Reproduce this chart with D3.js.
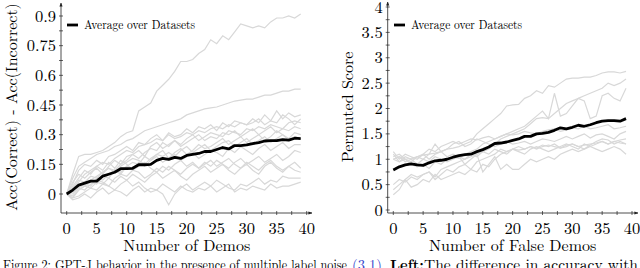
<!DOCTYPE html>
<html>
<head>
<meta charset="utf-8">
<script src="https://cdn.jsdelivr.net/npm/d3@7"></script>
<style>
  body { margin: 0; background: #fff; }
</style>
</head>
<body>
<script>
// x values : 0 .. 39 demos
const demos = d3.range(40);

// left panel : Acc(Correct) - Acc(Incorrect)
const leftAvg = [0,0.02,0.045,0.055,0.065,0.065,0.09,0.1,0.11,0.128,0.128,0.13,0.148,0.148,0.15,0.17,0.18,0.175,0.185,0.18,0.195,0.2,0.205,0.215,0.215,0.225,0.235,0.228,0.245,0.245,0.248,0.255,0.26,0.268,0.27,0.27,0.275,0.272,0.282,0.28];
const leftSets = [
  [0,0.1,0.19,0.2,0.2,0.21,0.22,0.24,0.26,0.29,0.31,0.32,0.42,0.44,0.46,0.52,0.55,0.58,0.62,0.67,0.67,0.68,0.71,0.73,0.78,0.76,0.8,0.78,0.82,0.86,0.85,0.84,0.85,0.84,0.87,0.89,0.89,0.9,0.89,0.91],
  [0,0.08,0.14,0.16,0.18,0.2,0.21,0.22,0.24,0.25,0.27,0.28,0.3,0.32,0.33,0.34,0.35,0.36,0.37,0.38,0.4,0.41,0.42,0.43,0.435,0.44,0.45,0.46,0.47,0.475,0.48,0.48,0.49,0.5,0.5,0.51,0.52,0.52,0.53,0.53],
  [0,0.05,0.12,0.15,0.14,0.17,0.15,0.19,0.2,0.22,0.24,0.22,0.26,0.25,0.28,0.3,0.27,0.31,0.29,0.3,0.33,0.31,0.34,0.33,0.35,0.32,0.36,0.34,0.37,0.36,0.35,0.38,0.36,0.4,0.37,0.42,0.38,0.41,0.39,0.4],
  [0,0.03,0.06,0.1,0.12,0.14,0.16,0.15,0.18,0.2,0.22,0.21,0.24,0.25,0.26,0.28,0.27,0.3,0.28,0.29,0.31,0.3,0.32,0.31,0.33,0.34,0.33,0.35,0.34,0.36,0.35,0.36,0.38,0.35,0.37,0.36,0.4,0.38,0.35,0.38],
  [0,0.02,0.05,0.04,0.07,0.09,0.11,0.13,0.12,0.15,0.17,0.2,0.18,0.21,0.23,0.22,0.26,0.24,0.27,0.25,0.28,0.3,0.27,0.29,0.31,0.3,0.29,0.32,0.31,0.3,0.33,0.32,0.34,0.33,0.35,0.34,0.33,0.36,0.37,0.36],
  [0,0.06,0.1,0.08,0.11,0.13,0.1,0.14,0.17,0.15,0.19,0.2,0.22,0.19,0.24,0.26,0.23,0.25,0.27,0.24,0.26,0.28,0.3,0.27,0.29,0.28,0.31,0.3,0.32,0.29,0.31,0.33,0.3,0.32,0.34,0.31,0.33,0.32,0.34,0.33],
  [0,0,0.03,0.05,0.04,0.08,0.07,0.1,0.12,0.11,0.14,0.16,0.15,0.19,0.17,0.2,0.22,0.18,0.21,0.23,0.2,0.22,0.25,0.23,0.24,0.26,0.28,0.25,0.27,0.29,0.26,0.28,0.3,0.27,0.29,0.32,0.3,0.28,0.31,0.3],
  [0,-0.02,0.02,0.04,0.06,0.05,0.09,0.08,0.12,0.1,0.14,0.12,0.16,0.14,0.17,0.19,0.16,0.18,0.2,0.17,0.19,0.21,0.18,0.2,0.22,0.21,0.19,0.23,0.21,0.24,0.22,0.2,0.23,0.25,0.22,0.24,0.26,0.23,0.25,0.25],
  [0,0.01,0.03,0.02,0.05,0.07,0.06,0.04,0.08,0.1,0.09,0.12,0.11,0.08,0.1,0.13,0.11,0.14,0.12,0.1,0.13,0.15,0.13,0.16,0.14,0.17,0.15,0.13,0.16,0.18,0.15,0.17,0.19,0.16,0.18,0.2,0.17,0.19,0.22,0.21],
  [0,-0.01,0.02,0.04,0.03,0.06,0.05,0.08,0.06,0.09,0.07,0.1,0.08,0.06,0.09,0.11,0.08,0.1,0.12,0.09,0.07,0.1,0.12,0.14,0.11,0.13,0.15,0.12,0.1,0.13,0.15,0.12,0.1,0.14,0.16,0.13,0.11,0.14,0.12,0.11],
  [0,-0.02,-0.01,0.01,0.03,0.02,0.05,0.04,0.02,0.05,0.07,0.04,0.06,0.03,0.01,0.02,0,-0.055,0,0.03,0.05,0.02,0.04,0.06,0.04,0.07,0.05,0.03,0.02,0.05,0.04,0.06,0.08,0.05,0.07,0.06,0.09,0.08,0.08,0.08],
  [0,-0.03,-0.02,0,-0.02,0.01,0.03,0,0.02,0.01,-0.01,0.02,0.04,0.01,0.03,0.02,0.05,0.03,0.01,0.04,0.02,0.01,0.03,0.02,0.04,0.01,0.03,0.05,0.01,0.03,0.02,0.04,0.03,0.02,0.05,0.03,0.04,0.04,0.05,0.06],
  [0,0.04,0.08,0.12,0.1,0.14,0.12,0.16,0.13,0.17,0.15,0.12,0.14,0.16,0.13,0.11,0.14,0.12,0.15,0.17,0.14,0.16,0.13,0.15,0.17,0.14,0.16,0.18,0.15,0.13,0.16,0.14,0.12,0.15,0.17,0.14,0.12,0.14,0.16,0.13],
  [0,0.03,0.07,0.06,0.09,0.08,0.11,0.13,0.11,0.14,0.16,0.18,0.17,0.15,0.18,0.2,0.19,0.21,0.19,0.22,0.24,0.21,0.23,0.25,0.22,0.24,0.26,0.27,0.24,0.26,0.28,0.25,0.27,0.29,0.26,0.28,0.3,0.27,0.29,0.28]
];
const leftTicks = [0, 0.15, 0.3, 0.45, 0.6, 0.75, 0.9];
const leftTickLabels = ["0", "0.15", "0.3", "0.45", "0.6", "0.75", "0.9"];

// right panel : permuted score
const rightAvg = [0.79,0.85,0.89,0.91,0.89,0.88,0.93,0.97,0.98,1.0,1.04,1.07,1.09,1.1,1.15,1.19,1.24,1.31,1.32,1.34,1.37,1.4,1.45,1.45,1.5,1.51,1.53,1.57,1.62,1.6,1.63,1.67,1.65,1.68,1.72,1.75,1.76,1.76,1.75,1.8];
const rightSets = [
  [1.0,1.05,1.0,1.02,1.05,1.08,1.1,1.12,1.15,1.2,1.22,1.25,1.3,1.35,1.5,1.6,1.7,1.8,1.9,2.05,2.07,2.08,2.2,2.25,2.35,2.3,2.45,2.42,2.5,2.58,2.6,2.6,2.62,2.62,2.65,2.7,2.72,2.72,2.7,2.73],
  [1.1,0.95,1.0,0.9,0.85,0.9,0.82,0.95,0.9,1.0,1.05,1.02,1.1,1.15,1.2,1.3,1.35,1.4,1.45,1.5,1.55,1.6,1.65,1.75,1.85,1.95,1.8,2.3,1.85,1.9,2.05,2.2,2.25,2.3,2.35,2.4,2.5,2.45,2.5,2.58],
  [0.5,0.6,0.55,0.65,0.6,0.7,0.75,0.65,0.8,0.85,0.9,0.95,1.0,1.05,1.1,1.15,1.2,1.3,1.4,1.45,1.5,1.55,1.6,1.7,1.8,1.82,1.8,1.9,2.0,2.1,2.15,2.2,2.15,1.8,1.85,2.25,2.3,2.2,2.15,2.4],
  [1.15,1.0,1.1,1.05,1.0,1.1,1.2,1.15,1.25,1.3,1.35,1.3,1.35,1.4,1.38,1.42,1.45,1.4,1.45,1.5,1.48,1.5,1.55,1.52,1.5,1.55,1.58,1.6,1.55,1.58,1.62,1.6,1.65,1.6,1.62,1.65,1.68,1.6,1.62,1.65],
  [1.05,1.1,1.0,0.95,1.05,1.0,1.1,1.3,1.15,1.2,1.3,1.35,1.25,1.3,1.4,1.35,1.3,1.25,1.3,1.35,1.3,1.32,1.35,1.3,1.35,1.4,1.38,1.35,1.4,1.45,1.4,1.45,1.5,1.42,1.48,1.5,1.45,1.4,1.5,1.55],
  [0.3,0.4,0.6,0.45,0.5,0.6,0.55,0.7,0.6,0.65,0.7,0.75,0.7,0.8,0.75,0.9,0.85,1.0,1.1,1.15,1.2,1.18,1.2,1.25,1.2,1.25,1.28,1.25,1.22,1.28,1.3,1.25,1.28,1.3,1.32,1.35,1.3,1.35,1.38,1.4],
  [1.0,0.95,1.05,1.0,0.9,1.0,0.95,1.05,1.0,0.95,1.0,1.05,0.9,1.0,1.1,0.75,0.9,1.05,0.8,0.9,0.8,0.8,0.9,1.0,0.95,1.0,1.05,1.0,1.1,1.15,1.2,1.15,1.2,1.25,1.3,1.35,1.3,1.35,1.32,1.3],
  [0.4,0.5,0.6,0.7,0.65,0.7,0.75,0.6,0.7,0.8,0.75,0.85,0.9,0.8,0.95,1.0,1.05,1.1,1.2,1.15,1.2,1.25,1.2,1.25,1.22,1.28,1.25,1.3,1.22,1.25,1.3,1.25,1.2,1.28,1.35,1.4,1.38,1.3,1.35,1.3],
  [1.0,1.05,0.95,1.0,1.05,1.1,1.0,1.1,1.15,1.05,1.1,1.05,1.0,1.1,1.05,1.15,1.1,1.2,1.15,1.1,1.2,1.15,1.1,1.2,1.25,1.2,1.15,1.2,1.25,1.3,1.25,1.2,1.3,1.25,1.2,1.15,1.2,1.25,1.2,1.1]
];
const rightTicks = [0, 0.5, 1, 1.5, 2, 2.5, 3, 3.5, 4];
const rightTickLabels = ["0", "0.5", "1", "1.5", "2", "2.5", "3", "3.5", "4"];

const xTicks = [0, 5, 10, 15, 20, 25, 30, 35, 40];
const legendLabel = "Average over Datasets";

const LM = "'Latin Modern Roman'";

const svg = d3.select("body").append("svg")
  .attr("width", 640).attr("height", 268);

svg.append("defs").append("marker")
  .attr("id", "arr")
  .attr("viewBox", "0 0 10 10")
  .attr("refX", 9).attr("refY", 5)
  .attr("markerWidth", 5).attr("markerHeight", 5)
  .attr("orient", "auto")
  .append("path")
  .attr("d", "M0,1 L10,5 L0,9 Z")
  .attr("fill", "#222");

function panel(o) {
  const x = d3.scaleLinear().domain([0, 40]).range([o.x0, o.x1]);
  const y = d3.scaleLinear().domain([o.yTicks[0], o.yTicks[o.yTicks.length - 1]]).range([o.y0, o.y1]);
  const g = svg.append("g");

  // grey dataset lines
  const line = d3.line().x((d, i) => x(demos[i])).y(d => y(d));
  g.selectAll("path.set")
    .data(o.sets)
    .enter().append("path")
    .attr("class", "set")
    .attr("d", line)
    .attr("fill", "none")
    .attr("stroke", "#d8d8d8")
    .attr("stroke-width", 1.2);

  g.append("path")
    .attr("d", line(o.avg))
    .attr("fill", "none")
    .attr("stroke", "#000")
    .attr("stroke-width", 2.8)
    .attr("stroke-linejoin", "round");

  // axes (pgfplots style, arrows)
  g.append("line")
    .attr("x1", o.axX).attr("x2", o.axX)
    .attr("y1", o.axY).attr("y2", o.yTop)
    .attr("stroke", "#222").attr("stroke-width", 0.8)
    .attr("marker-end", "url(#arr)");
  g.append("line")
    .attr("x1", o.axX).attr("x2", o.xRight)
    .attr("y1", o.axY).attr("y2", o.axY)
    .attr("stroke", "#222").attr("stroke-width", 0.8)
    .attr("marker-end", "url(#arr)");

  // y ticks, with minor ticks half way
  const yStep = o.yTicks[1] - o.yTicks[0];
  const yMinor = o.yTicks.slice(0, -1).map(t => t + yStep / 2);
  g.selectAll("line.ytick")
    .data(o.yTicks.concat(yMinor))
    .enter().append("line")
    .attr("x1", o.axX - 2).attr("x2", o.axX + 2)
    .attr("y1", d => y(d)).attr("y2", d => y(d))
    .attr("stroke", "#222").attr("stroke-width", 0.7);
  g.selectAll("text.ylab")
    .data(o.yTicks)
    .enter().append("text")
    .attr("x", o.axX - 5)
    .attr("y", d => y(d) + 5.5)
    .attr("text-anchor", "end")
    .style("font-family", LM)
    .attr("font-size", 16.5)
    .text((d, i) => o.yLabels[i]);

  const xMinor = xTicks.slice(0, -1).map(t => t + 2.5);
  g.selectAll("line.xtick")
    .data(xTicks.concat(xMinor))
    .enter().append("line")
    .attr("x1", d => x(d)).attr("x2", d => x(d))
    .attr("y1", o.axY - 2).attr("y2", o.axY + 2)
    .attr("stroke", "#222").attr("stroke-width", 0.7);
  g.selectAll("text.xlab")
    .data(xTicks)
    .enter().append("text")
    .attr("x", d => x(d))
    .attr("y", 233.5)
    .attr("text-anchor", "middle")
    .style("font-family", LM)
    .attr("font-size", 16.5)
    .text(d => d);

  g.append("text")
    .attr("x", (x(0) + x(40)) / 2).attr("y", 250.5)
    .attr("text-anchor", "middle")
    .style("font-family", LM)
    .attr("font-size", 16)
    .text(o.xTitle);
  g.append("text")
    .attr("transform", "translate(" + o.yTitleX + ",107) rotate(-90)")
    .attr("text-anchor", "middle")
    .style("font-family", LM)
    .attr("font-size", 16)
    .text(o.yTitle);

  // legend
  g.append("line")
    .attr("x1", o.legX).attr("x2", o.legX + 11)
    .attr("y1", o.legY).attr("y2", o.legY)
    .attr("stroke", "#000").attr("stroke-width", 2.8);
  g.append("text")
    .attr("x", o.legX + 17).attr("y", o.legY + 4)
    .style("font-family", LM)
    .attr("font-size", 12)
    .attr("textLength", 111).attr("lengthAdjust", "spacingAndGlyphs")
    .text(legendLabel);
}

panel({
  sets: leftSets, avg: leftAvg,
  yTicks: leftTicks, yLabels: leftTickLabels,
  x0: 66.7, x1: 306.7, y0: 194, y1: 16,
  axX: 61, axY: 213, yTop: 3, xRight: 312,
  xTitle: "Number of Demos", yTitle: "Acc(Correct) - Acc(Incorrect)", yTitleX: 17,
  legX: 67, legY: 25
});

panel({
  sets: rightSets, avg: rightAvg,
  yTicks: rightTicks, yLabels: rightTickLabels,
  x0: 393.3, x1: 632, y0: 210, y1: 7,
  axX: 387.7, axY: 213, yTop: 2, xRight: 638,
  xTitle: "Number of False Demos", yTitle: "Permuted Score", yTitleX: 353,
  legX: 394, legY: 25
});

// caption, clipped by the bottom edge (one text, several runs)
const cap = svg.append("text")
  .attr("y", 270)
  .attr("font-size", 14.5)
  .style("font-family", LM);
cap.append("tspan").attr("x", 3)
  .attr("textLength", 344).attr("lengthAdjust", "spacingAndGlyphs")
  .text("Figure 2:  GPT-J behavior in the presence of multiple label noise");
cap.append("tspan").attr("x", 352)
  .attr("fill", "#3344cc").style("fill", "#3344cc")
  .text("(3.1)");
cap.append("tspan").text(". ");
cap.append("tspan").attr("x", 390)
  .attr("font-weight", "bold")
  .text("Left:");
cap.append("tspan").attr("x", 424)
  .attr("textLength", 214).attr("lengthAdjust", "spacingAndGlyphs")
  .text("The difference in accuracy with");
</script>
</body>
</html>
